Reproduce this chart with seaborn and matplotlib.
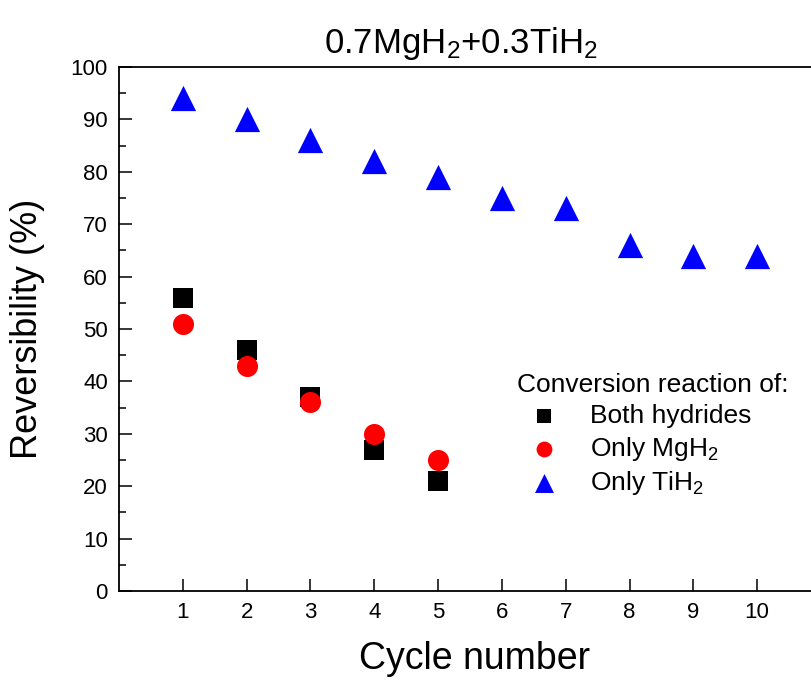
import matplotlib
matplotlib.use("Agg")
import matplotlib.pyplot as plt
from matplotlib.ticker import MultipleLocator
import numpy as np
import pandas as pd
import seaborn as sns

# values
cycles_both = [1, 2, 3, 4, 5]
both_hydrides = [56, 46, 37, 27, 21]
cycles_mg = [1, 2, 3, 4, 5]
only_mgh2 = [51, 43, 36, 30, 25]
cycles_ti = [1, 2, 3, 4, 5, 6, 7, 8, 9, 10]
only_tih2 = [94, 90, 86, 82, 79, 75, 73, 66, 64, 64]

x_ticks = list(range(1, 11))
y_ticks = list(range(0, 101, 10))

sns.set_style("ticks")
plt.rcParams["font.family"] = ["Liberation Sans", "DejaVu Sans"]
plt.rcParams["mathtext.fontset"] = "custom"
plt.rcParams["mathtext.rm"] = "Liberation Sans"
plt.rcParams["mathtext.it"] = "Liberation Sans:italic"
for key in ["text.color", "axes.labelcolor", "xtick.color", "ytick.color"]:
    plt.rcParams[key] = "black"

fig = plt.figure(figsize=(8.11, 6.8), dpi=100)
ax = fig.add_axes([119 / 811, 89 / 680, 702 / 811, 524 / 680])

sns.scatterplot(x=cycles_both, y=both_hydrides, marker="s", color="#000000",
                s=190, linewidth=0, label="Both hydrides", ax=ax, zorder=3)
sns.scatterplot(x=cycles_mg, y=only_mgh2, marker="o", color="#ff0000",
                s=230, linewidth=0, label=r"Only MgH$_2$", ax=ax, zorder=4)
sns.scatterplot(x=cycles_ti, y=only_tih2, marker="^", color="#0000ff",
                s=330, linewidth=0, label=r"Only TiH$_2$", ax=ax, zorder=3)

ax.set_xlim(0, 11)
ax.set_ylim(0, 100)
ax.set_xticks(x_ticks)
ax.set_yticks(y_ticks)
ax.yaxis.set_minor_locator(MultipleLocator(5))
ax.tick_params(which="both", direction="in", width=1.1, labelsize=16,
               top=False, right=False, colors="black")
ax.tick_params(which="major", length=9, pad=8)
ax.tick_params(which="minor", length=5)
for sp in ax.spines.values():
    sp.set_linewidth(1.3)
    sp.set_color("black")

ax.set_xlabel("Cycle number", fontsize=27, va="baseline")
ax.set_ylabel("Reversibility (%)", fontsize=26)
ax.xaxis.set_label_coords(0.506, -0.149)
ax.yaxis.set_label_coords(-0.105, 0.5)

fig.text(461 / 811, 1 - 53 / 680, r"0.7MgH$_2$+0.3TiH$_2$", fontsize=25,
         ha="center", va="baseline")

leg = ax.legend(title="Conversion reaction of:", loc="upper left",
                bbox_to_anchor=(499 / 811, 1 - 355 / 680),
                bbox_transform=fig.transFigure, frameon=False,
                fontsize=19, title_fontsize=19, markerscale=0.75,
                handletextpad=0.75, labelspacing=0.25, alignment="left",
                borderpad=0.2)

fig.savefig("out.png", dpi=100)
